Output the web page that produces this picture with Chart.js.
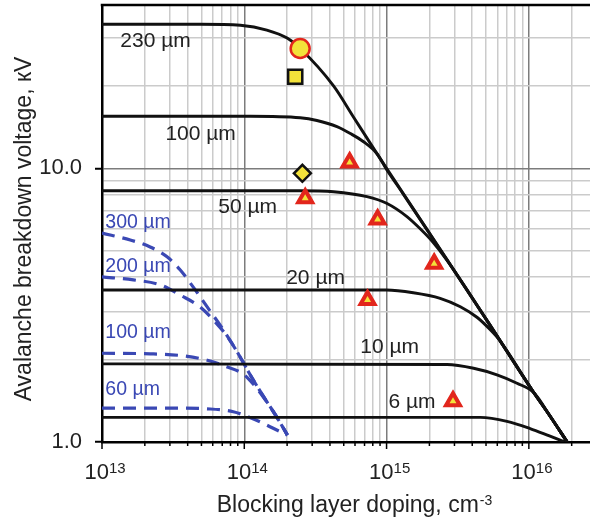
<!DOCTYPE html>
<html>
<head>
<meta charset="utf-8">
<script src="https://cdn.jsdelivr.net/npm/chart.js@4.4.1/dist/chart.umd.min.js"></script>
<style>
  html, body { margin: 0; padding: 0; background: #fff; }
  #wrap { width: 590px; height: 521px; position: relative; }
</style>
</head>
<body>
<div id="wrap"><canvas id="chart"></canvas></div>
<script>
// Axis ranges (doping in cm^-3, voltage in kV)
const X_MIN = 1e13, X_MAX = 2.69e16;
const Y_MIN = 1, Y_MAX = 39.5;
const xDecades = [1e13, 1e14, 1e15, 1e16];
const xExponents = ['13', '14', '15', '16'];
const yLabelValues = [1, 10];
const yLabelTexts = ['1.0', '10.0'];

// Black solid curves: [doping, voltage] per blocking layer thickness
const curve230 = [[1e13, 33.6], [4.9e13, 33.6], [9.4e13, 33.3], [1.44e14, 32.0], [2.0e14, 29.9], [2.47e14, 27.4],
  [4.24e14, 20.0], [5.85e14, 15.4], [8.21e14, 11.7], [1.0e15, 10.0], [2.67e15, 4.62], [5.1e15, 2.77],
  [1.07e16, 1.53], [1.4e16, 1.25], [1.86e16, 1.0]];
const curve100 = [[1e13, 15.5], [1.1e14, 15.5], [2.47e14, 15.3], [3.24e14, 14.95], [4.48e14, 14.2], [5.56e14, 13.4],
  [6.89e14, 12.5], [8.56e14, 11.3], [1.0e15, 9.9], [1.3e15, 8.1], [2.67e15, 4.62], [5.1e15, 2.77],
  [1.07e16, 1.53], [1.4e16, 1.25], [1.86e16, 1.0]];
const curve50 = [[1e13, 8.28], [2.47e14, 8.28], [4.24e14, 8.21], [7.28e14, 7.88], [1.0e15, 7.45], [1.39e15, 6.66],
  [1.73e15, 6.0], [2.1e15, 5.4], [2.67e15, 4.6], [5.1e15, 2.77], [1.07e16, 1.53], [1.4e16, 1.25], [1.86e16, 1.0]];
const curve20 = [[1e13, 3.59], [1.0e15, 3.59], [1.54e15, 3.51], [2.38e15, 3.35], [3.3e15, 3.12], [4.34e15, 2.85],
  [5.36e15, 2.57], [6.2e15, 2.36], [1.07e16, 1.53], [1.4e16, 1.25], [1.86e16, 1.0]];
const curve10 = [[1e13, 1.93], [2.66e15, 1.92], [4.09e15, 1.86], [5.97e15, 1.76], [8.25e15, 1.64], [1.09e16, 1.51],
  [1.4e16, 1.25], [1.86e16, 1.0]];
const curve6 = [[1e13, 1.23], [4.56e15, 1.23], [7.02e15, 1.19], [1.02e16, 1.12], [1.41e16, 1.05], [1.8e16, 1.0]];

// Blue dashed curves
const dash300 = [[1e13, 5.8], [1.58e13, 5.47], [2.18e13, 5.16], [2.88e13, 4.74], [3.55e13, 4.25], [4.38e13, 3.68],
  [5.5e13, 3.11], [7.12e13, 2.57], [8.93e13, 2.13], [1.1e14, 1.76], [1.36e14, 1.47], [1.68e14, 1.24], [2.01e14, 1.06]];
const dash200 = [[1e13, 4.01], [1.66e13, 3.91], [2.57e13, 3.75], [3.55e13, 3.44], [4.91e13, 3.11], [6.26e13, 2.74],
  [7.72e13, 2.4], [9.37e13, 2.04], [1.1e14, 1.76], [1.36e14, 1.47], [1.68e14, 1.24], [2.01e14, 1.06]];
const dash100 = [[1e13, 2.11], [2.18e13, 2.1], [3.55e13, 2.07], [5.5e13, 1.99], [7.6e13, 1.88], [9.37e13, 1.8],
  [1.05e14, 1.72], [1.36e14, 1.46], [1.68e14, 1.24], [2.01e14, 1.06]];
const dash60 = [[1e13, 1.33], [2.88e13, 1.33], [5.77e13, 1.32], [8.37e13, 1.29], [1.05e14, 1.24], [1.36e14, 1.17],
  [1.79e14, 1.09], [2.01e14, 1.06]];

// Measured devices
const circlePts = [[2.47e14, 27.4]];
const squarePts = [[2.28e14, 21.6]];
const diamondPts = [[2.56e14, 9.59]];
const trianglePts = [[5.5e14, 10.5], [2.68e14, 7.78], [8.65e14, 6.5], [2.16e15, 4.48], [7.35e14, 3.3], [2.93e15, 1.41]];

// Curve labels: text and anchor [doping, voltage] at left baseline
const blackLabels = ['230 µm', '100 µm', '50 µm', '20 µm', '10 µm', '6 µm'];
const blackLabelPos = [[1.345e13, 27.8], [2.79e13, 12.7], [6.57e13, 6.85], [1.97e14, 3.78], [6.54e14, 2.11], [1.03e15, 1.33]];
const blueLabels = ['300 µm', '200 µm', '100 µm', '60 µm'];
const blueLabelPos = [[1.055e13, 6.04], [1.055e13, 4.19], [1.055e13, 2.39], [1.055e13, 1.485]];

const FONT = '"Liberation Sans", Arial, sans-serif';
const BLACK = '#111111';
const BLUE = '#3a48b4';
const RED = '#e2261c';
const YELLOW = '#f3e23a';
const MAJOR_GRID = '#7c7c7c';
const MINOR_GRID = '#cbcbcb';

function isDecade(v) {
  const e = Math.log10(v);
  return Math.abs(e - Math.round(e)) < 1e-9;
}

// 1..9 x 10^n ticks across the range
function logTicks(min, max) {
  const out = [];
  for (let e = Math.floor(Math.log10(min)); e <= Math.ceil(Math.log10(max)); e++) {
    for (let m = 1; m <= 9; m++) {
      const v = m * Math.pow(10, e);
      if (v >= min * 0.999 && v <= max * 1.001) out.push({ value: v, major: m === 1 });
    }
  }
  return out;
}

const toXY = arr => arr.map(([x, y]) => ({ x, y }));

function curve(data, color, dash) {
  return {
    data: toXY(data),
    showLine: true,
    borderColor: color,
    borderWidth: dash ? 3.2 : 2.9,
    borderDash: dash || [],
    pointRadius: 0,
    pointHoverRadius: 0,
    cubicInterpolationMode: 'monotone',
    fill: false
  };
}

function markers(data, style, radius, fillColor, edgeColor, edgeWidth) {
  return {
    data: toXY(data),
    showLine: false,
    pointStyle: style,
    pointRadius: radius,
    pointHoverRadius: radius,
    backgroundColor: fillColor,
    borderColor: edgeColor,
    pointBorderWidth: edgeWidth,
    borderWidth: edgeWidth
  };
}

// Frame top, x ticks with superscript labels, axis titles and curve labels
const annotations = {
  id: 'annotations',
  afterDatasetsDraw(chart) {
    const { ctx, scales: { x, y } } = chart;
    ctx.save();
    ctx.textAlign = 'left';
    ctx.textBaseline = 'alphabetic';
    ctx.font = `21px ${FONT}`;
    ctx.fillStyle = '#222';
    blackLabels.forEach((t, i) => {
      ctx.fillText(t, x.getPixelForValue(blackLabelPos[i][0]), y.getPixelForValue(blackLabelPos[i][1]));
    });
    ctx.font = `19.5px ${FONT}`;
    ctx.fillStyle = BLUE;
    blueLabels.forEach((t, i) => {
      ctx.fillText(t, x.getPixelForValue(blueLabelPos[i][0]), y.getPixelForValue(blueLabelPos[i][1]));
    });
    ctx.restore();
  },
  afterDraw(chart) {
    const { ctx, chartArea: a, scales: { x } } = chart;
    ctx.save();
    ctx.strokeStyle = '#000';
    ctx.lineWidth = 2.5;
    ctx.beginPath();
    ctx.moveTo(a.left - 1.25, a.top);
    ctx.lineTo(a.right, a.top);
    ctx.stroke();

    ctx.lineWidth = 1.5;
    x.ticks.forEach(t => {
      const px = x.getPixelForValue(t.value);
      ctx.beginPath();
      ctx.moveTo(px, a.bottom);
      ctx.lineTo(px, a.bottom + (t.major ? 7 : 4));
      ctx.stroke();
    });

    ctx.fillStyle = '#222';
    ctx.textAlign = 'left';
    ctx.textBaseline = 'alphabetic';
    xDecades.forEach((v, i) => {
      const px = x.getPixelForValue(v);
      ctx.font = `22px ${FONT}`;
      ctx.fillText('10', px - 17.5, a.bottom + 37);
      const w = ctx.measureText('10').width;
      ctx.font = `15px ${FONT}`;
      ctx.fillText(xExponents[i], px - 17.5 + w, a.bottom + 31);
    });

    // x title with superscript
    const main = 'Blocking layer doping, cm';
    const sup = '-3';
    ctx.font = `23px ${FONT}`;
    const wMain = ctx.measureText(main).width;
    ctx.font = `14px ${FONT}`;
    const wSup = ctx.measureText(sup).width;
    const left = 354 - (wMain + wSup) / 2;
    ctx.font = `23px ${FONT}`;
    ctx.fillText(main, left, a.bottom + 70);
    ctx.font = `14px ${FONT}`;
    ctx.fillText(sup, left + wMain + 1, a.bottom + 63);

    // y title
    ctx.translate(31, 229);
    ctx.rotate(-Math.PI / 2);
    ctx.textAlign = 'center';
    ctx.font = `23px ${FONT}`;
    ctx.fillText('Avalanche breakdown voltage, кV', 0, 0);
    ctx.restore();
  }
};

new Chart(document.getElementById('chart'), {
  type: 'scatter',
  plugins: [annotations],
  data: {
    datasets: [
      markers(trianglePts, 'triangle', 4, YELLOW, YELLOW, 0),
      markers(trianglePts, 'triangle', 10.5, RED, RED, 1.5),
      markers(circlePts, 'circle', 9.5, YELLOW, RED, 2.5),
      markers(squarePts, 'rect', 10, YELLOW, BLACK, 2.5),
      markers(diamondPts, 'rectRot', 8.5, YELLOW, BLACK, 2.5),
      curve(curve230, BLACK),
      curve(curve100, BLACK),
      curve(curve50, BLACK),
      curve(curve20, BLACK),
      curve(curve10, BLACK),
      curve(curve6, BLACK),
      curve(dash300, BLUE, [13, 8]),
      curve(dash200, BLUE, [13, 8]),
      curve(dash100, BLUE, [13, 8]),
      curve(dash60, BLUE, [13, 8])
    ]
  },
  options: {
    responsive: true,
    maintainAspectRatio: false,
    devicePixelRatio: 1,
    animation: false,
    layout: { autoPadding: false, padding: { top: 5, right: 0, left: 0, bottom: 0 } },
    plugins: {
      legend: { display: false },
      tooltip: { enabled: false }
    },
    scales: {
      x: {
        type: 'logarithmic',
        min: X_MIN,
        max: X_MAX,
        afterBuildTicks: s => { s.ticks = logTicks(X_MIN, X_MAX); },
        afterFit: s => {
          s.height = 79;
          s.paddingLeft = 0;
          s.paddingRight = 0;
        },
        ticks: { display: false, autoSkip: false },
        grid: {
          color: c => (c.tick && isDecade(c.tick.value) ? MAJOR_GRID : MINOR_GRID),
          lineWidth: 1.5,
          drawTicks: false
        },
        border: { display: true, color: '#000', width: 2.5 }
      },
      y: {
        type: 'logarithmic',
        min: Y_MIN,
        max: Y_MAX,
        afterBuildTicks: s => { s.ticks = logTicks(Y_MIN, Y_MAX); },
        afterFit: s => {
          s.width = 102;
          s.paddingTop = 0;
          s.paddingBottom = 0;
        },
        ticks: {
          autoSkip: false,
          padding: 13,
          color: '#222',
          font: { family: FONT, size: 22 },
          callback: v => {
            const i = yLabelValues.findIndex(l => Math.abs(l - v) < 1e-9);
            return i >= 0 ? yLabelTexts[i] : '';
          }
        },
        grid: {
          color: c => (c.tick && isDecade(c.tick.value) ? MAJOR_GRID : MINOR_GRID),
          lineWidth: 1.5,
          tickLength: 7,
          tickWidth: 2,
          tickColor: c => (c.tick && isDecade(c.tick.value) ? '#000' : 'rgba(0,0,0,0)')
        },
        border: { display: true, color: '#000', width: 2.5 }
      }
    }
  }
});
</script>
</body>
</html>
